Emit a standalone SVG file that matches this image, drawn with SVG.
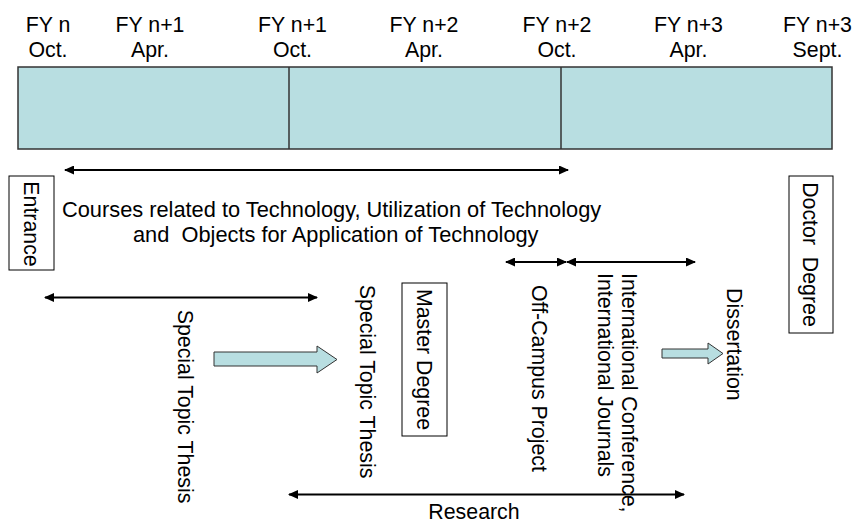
<svg xmlns="http://www.w3.org/2000/svg" width="855" height="523" viewBox="0 0 855 523">
<style>
text{font-family:"Liberation Sans",Arial,sans-serif;font-size:21.33px;fill:#000}
.mid{text-anchor:middle}
.big{font-size:21.8px}
.box{fill:#fff;stroke:#000;stroke-width:1}
.bar{fill:#b8dee1;stroke:#333;stroke-width:1.5}
.div{stroke:#333;stroke-width:1.5}
.blk{fill:#b8dee1;stroke:#333;stroke-width:1}
.con{stroke:#000;stroke-width:2;fill:none;marker-start:url(#ah);marker-end:url(#ah)}
</style>
<defs>
<marker id="ah" markerUnits="userSpaceOnUse" markerWidth="10" markerHeight="9" refX="9" refY="4.5" orient="auto-start-reverse" viewBox="0 0 10 9">
<path d="M0,0 L10,4.5 L0,9 z" fill="#000"/>
</marker>
</defs>
<rect width="855" height="523" fill="#fff"/>

<g id="timeline">
<rect class="bar" x="18" y="67" width="814" height="82"/>
<line class="div" x1="289" y1="67" x2="289" y2="149"/>
<line class="div" x1="561" y1="67" x2="561" y2="149"/>
</g>

<g id="labels-top">
<text class="mid" x="48" y="32">FY n</text><text class="mid" x="48" y="57">Oct.</text>
<text class="mid" x="150" y="32">FY n+1</text><text class="mid" x="150" y="57">Apr.</text>
<text class="mid" x="292.5" y="32">FY n+1</text><text class="mid" x="292.5" y="57">Oct.</text>
<text class="mid" x="424" y="32">FY n+2</text><text class="mid" x="424" y="57">Apr.</text>
<text class="mid" x="557" y="32">FY n+2</text><text class="mid" x="557" y="57">Oct.</text>
<text class="mid" x="688.5" y="32">FY n+3</text><text class="mid" x="688.5" y="57">Apr.</text>
<text class="mid" x="817.5" y="32">FY n+3</text><text class="mid" x="817.5" y="57">Sept.</text>
</g>

<g id="connectors">
<line class="con" x1="65" y1="170" x2="568" y2="170"/>
<line class="con" x1="45" y1="297.5" x2="317" y2="297.5"/>
<line class="con" x1="506" y1="262" x2="566" y2="262"/>
<line class="con" x1="567" y1="262" x2="695" y2="262"/>
<line class="con" x1="289" y1="494.5" x2="684" y2="494.5"/>
<polygon class="blk" points="214,352 317,352 317,346 337,359.5 317,373 317,366 214,366"/>
<polygon class="blk" points="662,349 708,349 708,343 723,353.5 708,364 708,358 662,358"/>
</g>

<g id="entrance">
<rect class="box" x="9" y="176" width="45" height="94"/>
<text class="mid" transform="translate(31.5,224) rotate(90)" y="7.6">Entrance</text>
</g>

<g id="courses">
<text class="big" x="62" y="217">Courses related to Technology, Utilization of Technology</text>
<text class="big" x="133" y="242" xml:space="preserve">and  Objects for Application of Technology</text>
</g>

<g id="special-topic-1">
<text class="mid" transform="translate(186,406.5) rotate(90)" y="7.6">Special Topic Thesis</text>
</g>

<g id="special-topic-2">
<text class="mid" transform="translate(368,381.5) rotate(90)" y="7.6">Special Topic Thesis</text>
</g>

<g id="master">
<rect class="box" x="402" y="283" width="45" height="153"/>
<text class="mid" transform="translate(424.5,359.5) rotate(90)" y="7.6">Master Degree</text>
</g>

<g id="off-campus">
<text transform="translate(540,285) rotate(90)" y="7.6">Off-Campus Project</text>
</g>

<g id="international">
<text transform="translate(630,273) rotate(90)" y="7.6">International Conference,</text>
<text transform="translate(606,273) rotate(90)" y="7.6">International Journals</text>
</g>

<g id="dissertation">
<text transform="translate(735,288) rotate(90)" y="7.6">Dissertation</text>
</g>

<g id="doctor">
<rect class="box" x="789" y="176" width="44" height="157"/>
<text class="mid" transform="translate(811,254.5) rotate(90)" y="7.6" xml:space="preserve">Doctor  Degree</text>
</g>

<g id="research">
<text class="mid" x="474" y="519">Research</text>
</g>
</svg>
